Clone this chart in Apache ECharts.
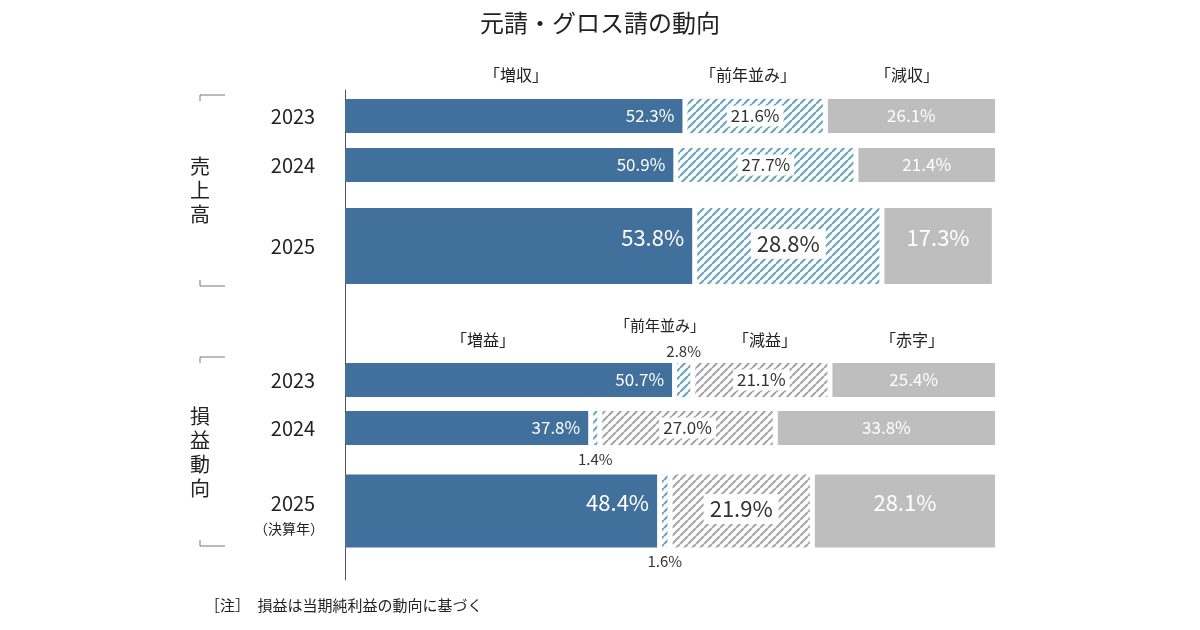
<!DOCTYPE html>
<html><head><meta charset="utf-8">
<script src="https://cdn.jsdelivr.net/npm/echarts@6/dist/echarts.min.js"></script>
<style>html,body{margin:0;background:#fff}#c{width:1200px;height:630px}</style>
</head><body><div id="c"></div>
<script>
// ---- data ----
const years = ['2023','2024','2025','2023','2024','2025'];
const groups = ['売上高','売上高','売上高','損益動向','損益動向','損益動向'];
const salesUp   = [52.3, 50.9, 53.8];
const salesFlat = [21.6, 27.7, 28.8];
const salesDown = [26.1, 21.4, 17.3];
const profUp    = [50.7, 37.8, 48.4];
const profFlat  = [2.8, 1.4, 1.6];
const profDown  = [21.1, 27.0, 21.9];
const profLoss  = [25.4, 33.8, 28.1];

// ---- layout (row centre / thickness, axis units = px) ----
const rowCenter = [116,165,246,380,428,511];
const rowThick  = [34,34,76,34,34,73];
const smallLabelSide = [0,0,0,-1,1,1];

function hatch(col){
  const c=document.createElement('canvas');c.width=8;c.height=8;
  const g=c.getContext('2d');g.fillStyle='#fff';g.fillRect(0,0,8,8);
  g.strokeStyle=col;g.lineWidth=2.2;
  g.beginPath();
  for(let k=-8;k<=16;k+=8){g.moveTo(k,8);g.lineTo(k+8,0);}
  g.stroke();return c;
}
const BLUE='#41709c', GRAY='#bebebe';
const tealHatch={image:hatch('#6ea6c2'),repeat:'repeat'};
const grayHatch={image:hatch('#a9a9a9'),repeat:'repeat'};

const rows=[];
[0,1,2].forEach(i=>rows.push([[salesUp[i],'solid'],[salesFlat[i],'teal'],[salesDown[i],'gray']]));
[0,1,2].forEach(i=>rows.push([[profUp[i],'solid'],[profFlat[i],'teal'],[profDown[i],'grayh'],[profLoss[i],'gray']]));
const data=[];
rows.forEach((r,ri)=>{let s=0;r.forEach((seg,si)=>{data.push([s,s+seg[0],ri,si,seg[0],seg[1]]);s+=seg[0];});});

function renderItem(params,api){
  const s=api.value(0),e=api.value(1),ri=api.value(2),si=api.value(3),v=api.value(4);
  const kind=data[params.dataIndex][5];
  const p0=api.coord([s,rowCenter[ri]]),p1=api.coord([e,rowCenter[ri]]);
  const top=api.coord([0,rowCenter[ri]-rowThick[ri]/2])[1];
  const h=api.coord([0,rowCenter[ri]+rowThick[ri]/2])[1]-top;
  const gap=2.5;
  let x0=p0[0]+(si>0?gap:0), x1=p1[0]-(e<99.9?gap:0);
  if(x1-x0<1.5){const m=(p0[0]+p1[0])/2;x0=m-0.8;x1=m+0.8;}
  const fill=kind==='solid'?BLUE:kind==='gray'?GRAY:kind==='teal'?tealHatch:grayHatch;
  const big=rowThick[ri]>50;
  const fs=big?22:17;
  const ch=[{type:'rect',shape:{x:x0,y:top,width:x1-x0,height:h},style:{fill:fill}}];
  const txt=v.toFixed(1)+'%';
  const cy=top+h/2+(big?-8:0);
  if(v<5){
    const side=smallLabelSide[ri];
    ch.push({type:'text',style:{text:txt,x:(x0+x1)/2,y:side<0?top-12:top+h+14,align:'center',verticalAlign:'middle',fill:'#333',font:'15px "Noto Sans CJK JP"'}});
  }else if(kind==='solid'){
    ch.push({type:'text',style:{text:txt,x:x1-8,y:cy,align:'right',verticalAlign:'middle',fill:'#fff',font:fs+'px "Noto Sans CJK JP"'}});
  }else if(kind==='gray'){
    ch.push({type:'text',style:{text:txt,x:(x0+x1)/2,y:cy,align:'center',verticalAlign:'middle',fill:'#fff',font:fs+'px "Noto Sans CJK JP"'}});
  }else{
    ch.push({type:'text',style:{text:txt,x:(x0+x1)/2,y:cy+(big?6:0),align:'center',verticalAlign:'middle',fill:'#333',font:fs+'px "Noto Sans CJK JP"',backgroundColor:'#fff',padding:big?[4,6]:[2,4]}});
  }
  if(si===0){
    const lx=api.coord([0,0])[0]-52;
    ch.push({type:'text',style:{text:years[ri],x:lx,y:rowCenter[ri]+(ri===5?-8:0),align:'center',verticalAlign:'middle',fill:'#222',font:'20px "Noto Sans CJK JP"'}});
    if(ri===5) ch.push({type:'text',style:{text:'（決算年）',x:lx-4,y:rowCenter[ri]+18,align:'center',verticalAlign:'middle',fill:'#222',font:'14px "Noto Sans CJK JP"'}});
  }
  return {type:'group',children:ch};
}

const F='"Noto Sans CJK JP"';
function t(x,y,s,size,align){return {type:'text',x:x,y:y,style:{text:s,fill:'#222',font:size+'px '+F,align:align||'center',verticalAlign:'middle'}};}
function bracket(x,y1,y2){
  return [{type:'polyline',shape:{points:[[x,y1+6],[x,y1],[x+25,y1]]},style:{stroke:'#777',lineWidth:1,fill:null}},
          {type:'polyline',shape:{points:[[x,y2-6],[x,y2],[x+25,y2]]},style:{stroke:'#777',lineWidth:1,fill:null}}];
}
const chart=echarts.init(document.getElementById('c'));
chart.setOption({
  animation:false,
  title:{text:'元請・グロス請の動向',left:'center',top:6,textStyle:{fontFamily:F,fontSize:24,fontWeight:'normal',color:'#222'}},
  grid:{left:345,right:205,top:90,bottom:50},
  xAxis:{type:'value',min:0,max:100,show:false},
  yAxis:{type:'value',min:90,max:580,inverse:true,axisLine:{show:true,lineStyle:{color:'#555'}},axisTick:{show:false},axisLabel:{show:false},splitLine:{show:false}},
  series:[{type:'custom',renderItem:renderItem,data:data,encode:{x:[0,1],y:2}}],
  graphic:[
    t(516,75,'「増収」',16),t(748,75,'「前年並み」',16),t(907,75,'「減収」',16),
    t(483,340,'「増益」',16),t(660,325,'「前年並み」',15),t(765,340,'「減益」',16),t(912,340,'「赤字」',16),
    {type:'text',x:200,y:190,style:{text:groups[0].split('').join('\n'),fill:'#222',font:'20px '+F,align:'center',verticalAlign:'middle',lineHeight:24}},
    {type:'text',x:200,y:452,style:{text:groups[3].split('').join('\n'),fill:'#222',font:'20px '+F,align:'center',verticalAlign:'middle',lineHeight:24}},
    ...bracket(200,95,286),...bracket(200,357,546),
    t(205,605,'［注］　損益は当期純利益の動向に基づく',15,'left')
  ]
});
</script></body></html>
